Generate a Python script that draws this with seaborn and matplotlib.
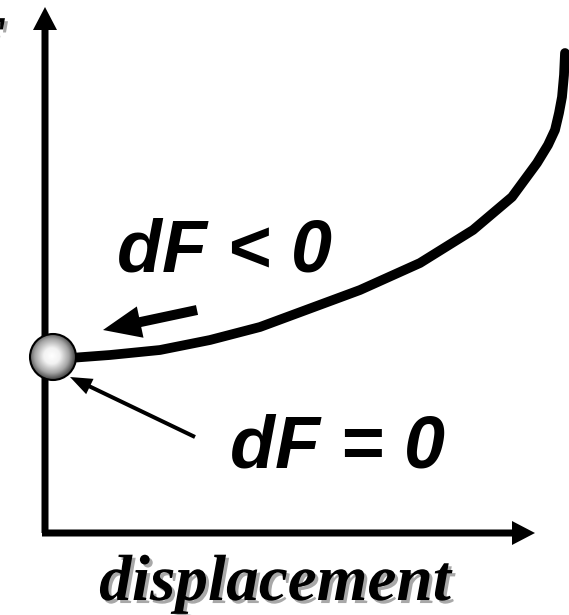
import numpy as np
import pandas as pd
import matplotlib
matplotlib.use("Agg")
import matplotlib.pyplot as plt
import matplotlib.patheffects as pe
from matplotlib.patches import Circle, FancyArrow
from matplotlib.colors import LinearSegmentedColormap
import seaborn as sns

# ------------------ DATA ------------------
# curve (origin = where the axes meet, 1 unit ~ 1 px)
displacement = [25, 65, 115, 165, 215, 315, 375, 428, 467, 492, 503, 510, 514, 517, 519, 520]
free_energy = [175, 178, 183, 193, 206, 243, 270, 303, 336, 370, 388, 403, 420, 436, 458, 480]

ball_x, ball_y = 8, 176   # ball sits at the minimum
x_label = "displacement"
y_label = "F"
label_lt = "dF < 0"
label_eq = "dF = 0"

df = pd.DataFrame({"displacement": displacement, "F": free_energy})

# ------------------ PLOTTING ------------------
sns.set_style("white")
fig = plt.figure(figsize=(5.69, 6.15), dpi=100)
ax = fig.add_axes([0, 0, 1, 1])
ax.set_axis_off()

# axes drawn as arrows
ax.add_patch(FancyArrow(0, 0, 0, 526, width=7, head_width=24, head_length=23,
                        length_includes_head=True, color="black", lw=0))
ax.add_patch(FancyArrow(-3, 0, 493, 0, width=7, head_width=24, head_length=23,
                        length_includes_head=True, color="black", lw=0))

# the curve
sns.lineplot(data=df, x="displacement", y="F", sort=False, color="black",
             linewidth=7, ax=ax, legend=False)
for ln in ax.lines:
    ln.set_solid_capstyle("round")
    ln.set_solid_joinstyle("round")

# shaded ball
r = 23
cmap = LinearSegmentedColormap.from_list(
    "ball", [(0, "#ffffff"), (0.35, "#f2f2f2"), (0.75, "#a4a4a4"), (1, "#505050")])
gx, gy = np.meshgrid(np.linspace(-1, 1, 200), np.linspace(-1, 1, 200))
dist = np.sqrt((gx + 0.05) ** 2 + (gy - 0.05) ** 2)
img = ax.imshow(dist, cmap=cmap, vmin=0, vmax=1.0, origin="lower",
                extent=[ball_x - r, ball_x + r, ball_y - r, ball_y + r], zorder=5)
clip = Circle((ball_x, ball_y), r, transform=ax.transData)
img.set_clip_path(clip)
ax.add_patch(Circle((ball_x, ball_y), r, fill=False, edgecolor="black", lw=1.5, zorder=6))
ax.set_aspect("auto")
ax.set_xlim(-45, 524)
ax.set_ylim(-82, 533)

# arrows
ax.add_patch(FancyArrow(152, 223, -94, -20, width=10, head_width=32, head_length=38,
                        length_includes_head=True, color="black", lw=0))
ax.add_patch(FancyArrow(150, 96, -125, 60, width=4, head_width=17, head_length=22,
                        length_includes_head=True, color="black", lw=0, zorder=7))

# labels
sans = dict(family="Liberation Sans", weight="bold", style="italic", color="black")
ax.text(72, 261, label_lt, fontsize=53, ha="left", va="baseline", **sans)
ax.text(185, 65, label_eq, fontsize=53, ha="left", va="baseline", **sans)

shadow = [pe.withSimplePatchShadow(offset=(2.2, -2.2), shadow_rgbFace="#a8a8a8", alpha=1.0)]
serif = dict(family="Liberation Serif", weight="bold", style="italic", color="black")
ax.text(230, -67, x_label, fontsize=47, ha="center", va="baseline",
        path_effects=shadow, **serif)
ax.text(-39, 473, y_label, fontsize=46, ha="right", va="baseline",
        path_effects=shadow, **serif)

fig.savefig("out.png", dpi=100)
